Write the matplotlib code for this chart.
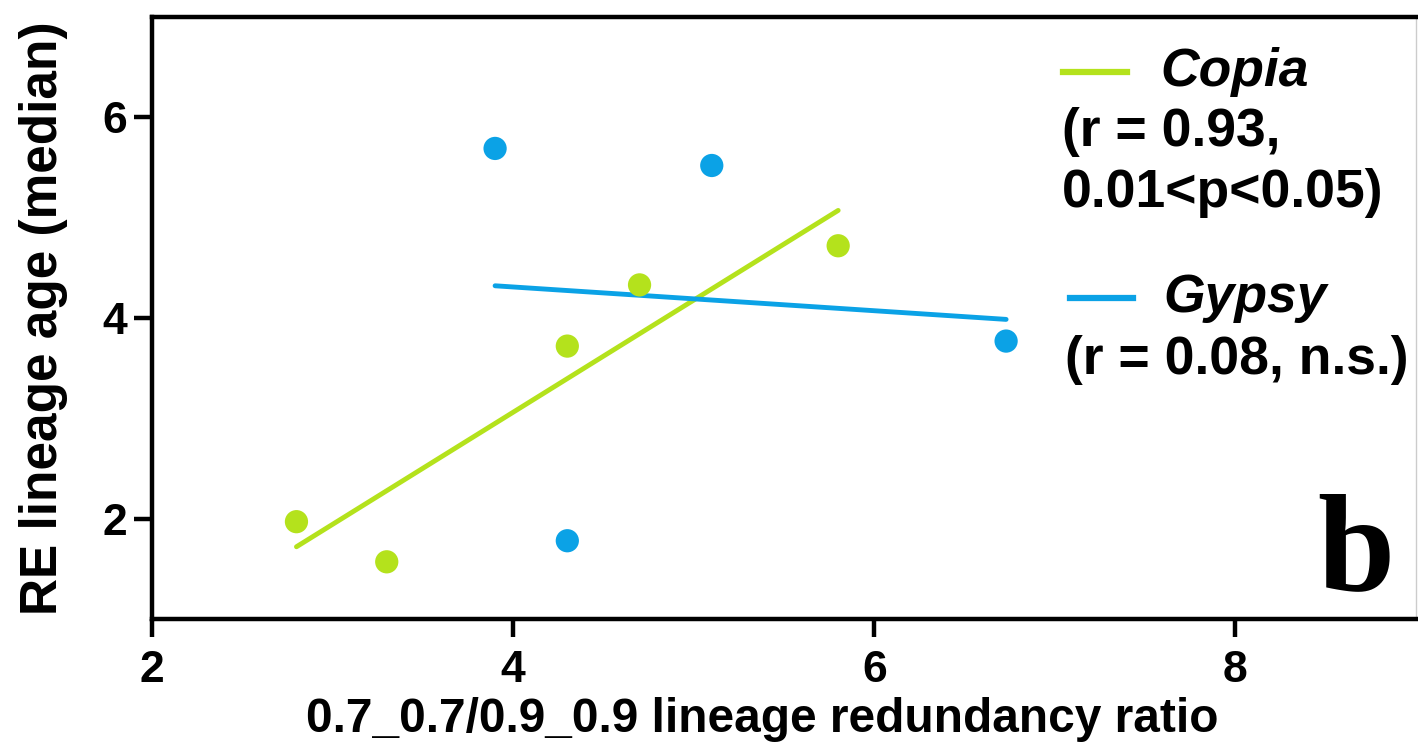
#!/usr/bin/env python3

import numpy as np
import matplotlib.pyplot as plt

# Copia lineages
copia_x = [2.80, 3.30, 4.30, 4.70, 5.80]
copia_y = [1.97, 1.57, 3.72, 4.33, 4.72]

# Gypsy lineages
gypsy_x = [3.90, 5.10, 4.30, 6.73]
gypsy_y = [5.69, 5.52, 1.78, 3.77]

x_ticks = [2, 4, 6, 8]
y_ticks = [2, 4, 6]

green = "#b4e21c"
blue = "#0ba2e6"


def fit_line(ax, x, y, color):
    x = np.asarray(x)
    slope, icpt = np.polyfit(x, y, 1)
    xs = np.array([x.min(), x.max()])
    ax.plot(xs, slope * xs + icpt, color=color, lw=3.5, solid_capstyle="round", zorder=2)


fig = plt.figure(figsize=(14.18, 7.48), dpi=100)
ax = fig.add_axes([152 / 1418, 1 - 619 / 748, (1416 - 152) / 1418, (619 - 17) / 748])

font = "Liberation Sans"

# Scatter points
ax.scatter(copia_x, copia_y, s=280, color=green, edgecolors="none", zorder=3)
ax.scatter(gypsy_x, gypsy_y, s=280, color=blue, edgecolors="none", zorder=3)

# Regression lines
fit_line(ax, copia_x, copia_y, green)
fit_line(ax, gypsy_x, gypsy_y, blue)

ax.set_xlim(2, 9)
ax.set_ylim(1, 7)
ax.set_xticks(x_ticks)
ax.set_yticks(y_ticks)

for s in ["left", "bottom", "top"]:
    ax.spines[s].set_linewidth(3.2)
ax.spines["right"].set_linewidth(1.0)
ax.spines["right"].set_color("#cccccc")

ax.tick_params(axis="both", direction="out", length=13, width=3.2, labelsize=32)
ax.tick_params(axis="x", pad=9)
ax.tick_params(axis="y", pad=5)
for lab in ax.get_xticklabels() + ax.get_yticklabels():
    lab.set_fontfamily(font)
    lab.set_fontweight("bold")

ax.set_xlabel("0.7_0.7/0.9_0.9 lineage redundancy ratio", fontsize=34.5,
              fontweight="bold", fontfamily=font)
ax.xaxis.set_label_coords((762 - 152) / (1416 - 152), -0.13)
ax.set_ylabel("RE lineage age (median)", fontsize=37,
              fontweight="bold", fontfamily=font, labelpad=25)

# Legend drawn by hand (figure pixel coordinates)
W, H = 1418, 748


def px(x, y):
    return x / W, 1 - y / H


fs = 38.5
fig.add_artist(plt.Line2D([1063 / W, 1127 / W], [1 - 72 / H, 1 - 72 / H], color=green, lw=4.5))
fig.text(*px(1160, 72), "Copia", fontsize=fs, fontweight="bold", fontstyle="italic",
         fontfamily=font, va="center", ha="left")
fig.text(*px(1062, 132), "(r = 0.93,", fontsize=fs, fontweight="bold",
         fontfamily=font, va="center", ha="left")
fig.text(*px(1062, 193), "0.01<p<0.05)", fontsize=fs, fontweight="bold",
         fontfamily=font, va="center", ha="left")

fig.add_artist(plt.Line2D([1070 / W, 1133 / W], [1 - 298 / H, 1 - 298 / H], color=blue, lw=4.5))
fig.text(*px(1163, 298), "Gypsy", fontsize=fs, fontweight="bold", fontstyle="italic",
         fontfamily=font, va="center", ha="left")
fig.text(*px(1065, 360), "(r = 0.08, n.s.)", fontsize=fs, fontweight="bold",
         fontfamily=font, va="center", ha="left")

# Panel letter
fig.text(*px(1356, 590), "b", fontsize=100, fontweight="bold",
         fontfamily="Liberation Serif", va="baseline", ha="center")

fig.savefig("out.png", dpi=100)
